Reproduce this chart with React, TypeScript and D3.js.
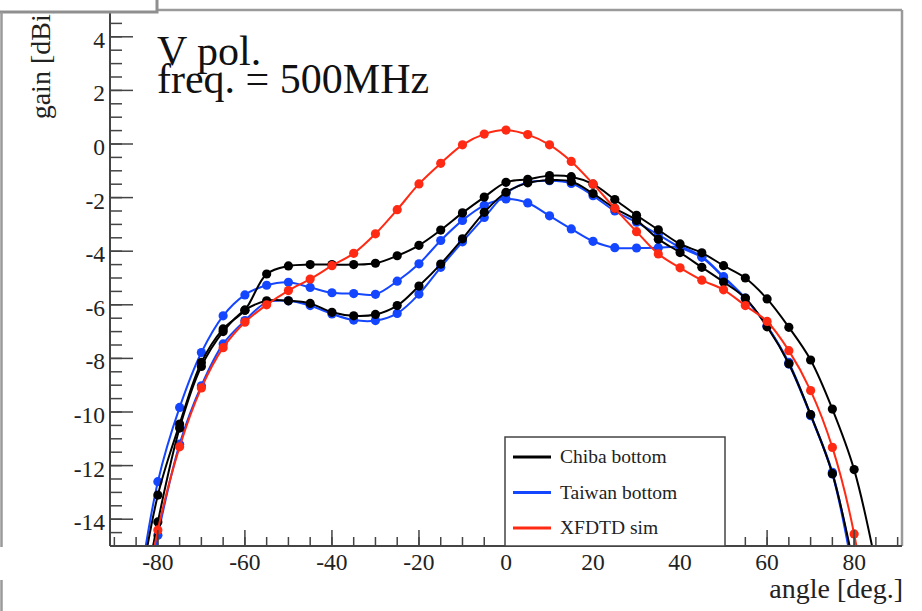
import React from "react";
import * as d3 from "d3";

const angles = [-85, -80, -75, -70, -65, -60, -55, -50, -45, -40, -35, -30, -25, -20, -15, -10, -5, 0, 5, 10, 15, 20, 25, 30, 35, 40, 45, 50, 55, 60, 65, 70, 75, 80, 85];

const chibaA = [-17.5, -13.1, -10.45, -8.15, -6.9, -6.2, -4.85, -4.55, -4.5, -4.5, -4.5, -4.45, -4.17, -3.78, -3.21, -2.57, -1.98, -1.43, -1.32, -1.18, -1.22, -1.5, -2.07, -2.66, -3.2, -3.73, -4.06, -4.54, -5.0, -5.78, -6.84, -8.06, -9.89, -12.15, -15.7];
const chibaB = [-18.5, -14.1, -10.6, -8.3, -7.0, -6.2, -5.85, -5.85, -5.95, -6.28, -6.41, -6.36, -6.03, -5.3, -4.48, -3.54, -2.55, -1.8, -1.45, -1.35, -1.4, -1.85, -2.4, -2.85, -3.55, -4.05, -4.6, -5.15, -5.75, -6.82, -8.2, -10.1, -12.3, -15.8, -20];
const taiwanA = [-17.3, -12.6, -9.83, -7.78, -6.41, -5.63, -5.27, -5.16, -5.35, -5.55, -5.58, -5.61, -5.12, -4.47, -3.6, -2.85, -2.29, -2.05, -2.2, -2.68, -3.17, -3.63, -3.87, -3.88, -3.87, -3.85, -4.2, -4.95, -5.75, -6.8, -8.15, -10.1, -12.25, -16, -21];
const taiwanB = [-19, -14.6, -11.2, -9.02, -7.46, -6.59, -5.91, -5.85, -6.03, -6.34, -6.57, -6.59, -6.32, -5.6, -4.6, -3.65, -2.74, -1.85, -1.43, -1.37, -1.47, -1.93, -2.5, -2.92, -3.38, -3.86, -4.23, -4.98, -5.78, -6.78, -8.21, -10.14, -12.31, -16.2, -21];
const xfdtd = [-19, -14.4, -11.3, -9.1, -7.6, -6.65, -6.0, -5.47, -5.04, -4.54, -4.08, -3.35, -2.45, -1.49, -0.72, -0.03, 0.37, 0.52, 0.35, -0.03, -0.65, -1.49, -2.4, -3.27, -4.1, -4.62, -5.08, -5.44, -6.03, -6.62, -7.71, -9.2, -11.32, -14.55, -20];

const xMajor = [-80, -60, -40, -20, 0, 20, 40, 60, 80];
const yMajor = [-14, -12, -10, -8, -6, -4, -2, 0, 2, 4];

const legendItems = [
  { label: "Chiba bottom", color: "#000000" },
  { label: "Taiwan bottom", color: "#1446ff" },
  { label: "XFDTD sim", color: "#ff2a14" },
];

const seriesList = [
  { values: taiwanB, color: "#1446ff" },
  { values: taiwanA, color: "#1446ff" },
  { values: chibaB, color: "#000000" },
  { values: chibaA, color: "#000000" },
  { values: xfdtd, color: "#ff2a14" },
];

const W = 922;
const H = 611;
const L = 110, R = 902, T = 10, B = 546;
const FONT = "'Liberation Serif', 'Times New Roman', serif";

export default function App() {
  const x = d3.scaleLinear().domain([-91, 91]).range([L, R]);
  const y = d3.scaleLinear().domain([-15, 5]).range([B, T]);
  const xMinor = d3.range(-90, 91, 5);
  const yMinor = d3.range(-15, 5.01, 0.5);

  const line = d3
    .line<[number, number]>()
    .x((d) => x(d[0]))
    .y((d) => y(d[1]))
    .curve(d3.curveCatmullRom.alpha(0.5));

  return (
    <svg width={W} height={H} style={{ position: "absolute", left: 0, top: 0, background: "#fff" }}>
      <defs>
        <clipPath id="plotclip">
          <rect x={L} y={T} width={R - L} height={B - T} />
        </clipPath>
      </defs>
      <rect x={0} y={0} width={W} height={H} fill="#fff" />

      {/* frame */}
      <line x1={L} y1={T} x2={R} y2={T} stroke="#9a9a9a" strokeWidth={2.5} />
      <line x1={R} y1={T} x2={R} y2={B} stroke="#9a9a9a" strokeWidth={2.5} />

      {/* curves */}
      <g clipPath="url(#plotclip)">
        {seriesList.map((s, i) => {
          const pts = angles.map((a, j) => [a, s.values[j]] as [number, number]);
          return (
            <g key={i}>
              <path d={line(pts) || ""} fill="none" stroke={s.color} strokeWidth={2} />
              {pts.map((p, j) => (
                <circle key={j} cx={x(p[0])} cy={y(p[1])} r={4.6} fill={s.color} />
              ))}
            </g>
          );
        })}
      </g>

      {/* axes */}
      <line x1={L} y1={T} x2={L} y2={B} stroke="#444" strokeWidth={2} />
      <line x1={L} y1={B} x2={R} y2={B} stroke="#444" strokeWidth={2} />
      {xMinor.map((v) => (
        <line key={"xm" + v} x1={x(v)} x2={x(v)} y1={B} y2={B - 9} stroke="#444" strokeWidth={1.5} />
      ))}
      {xMajor.map((v) => (
        <g key={"xM" + v}>
          <line x1={x(v)} x2={x(v)} y1={B} y2={B - 16} stroke="#444" strokeWidth={1.5} />
          <text x={x(v)} y={570} textAnchor="middle" fontFamily={FONT} fontSize={23.5} fill="#222">
            {v}
          </text>
        </g>
      ))}
      {yMinor.map((v) => (
        <line key={"ym" + v} x1={L} x2={L + 12} y1={y(v)} y2={y(v)} stroke="#444" strokeWidth={1.5} />
      ))}
      {yMajor.map((v) => (
        <g key={"yM" + v}>
          <line x1={L} x2={L + 23} y1={y(v)} y2={y(v)} stroke="#444" strokeWidth={1.5} />
          <text x={105} y={y(v) + 11} textAnchor="end" fontFamily={FONT} fontSize={23.5} fill="#222">
            {v}
          </text>
        </g>
      ))}

      {/* axis titles */}
      <text x={903} y={598} textAnchor="end" fontFamily={FONT} fontSize={28} fill="#222">
        angle [deg.]
      </text>
      <text
        transform="translate(50,5) rotate(-90)"
        textAnchor="end"
        fontFamily={FONT}
        fontSize={28}
        fill="#222"
      >
        gain [dBi]
      </text>

      {/* annotations */}
      <text x={157} y={65} fontFamily={FONT} fontSize={42} fill="#111">
        V pol.
      </text>
      <text x={157} y={93} fontFamily={FONT} fontSize={42} fill="#111">
        freq. = 500MHz
      </text>

      {/* legend */}
      <rect x={505} y={437} width={220} height={B - 437} fill="#fff" stroke="#444" strokeWidth={1.5} />
      {legendItems.map((it, i) => {
        const cy = 457 + i * 35.5;
        return (
          <g key={it.label}>
            <line x1={513} x2={551} y1={cy} y2={cy} stroke={it.color} strokeWidth={3} />
            <text x={560} y={cy + 6} fontFamily={FONT} fontSize={19.5} fill="#222">
              {it.label}
            </text>
          </g>
        );
      })}

      {/* top-left box and left border remnants */}
      <rect x={-5} y={-5} width={162} height={17} fill="#fff" stroke="#8f8f8f" strokeWidth={3} />
      <line x1={1.5} y1={12} x2={1.5} y2={547} stroke="#9a9a9a" strokeWidth={2.5} />
      <line x1={1.5} y1={580} x2={1.5} y2={611} stroke="#9a9a9a" strokeWidth={2.5} />
    </svg>
  );
}
